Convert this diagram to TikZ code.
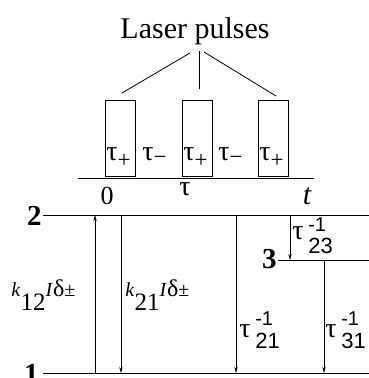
\documentclass[tikz,border=0pt]{standalone}
\usepackage{fontspec}
\setmainfont{Liberation Serif}
\newfontfamily\sansf{Liberation Sans}
\usetikzlibrary{arrows.meta}
\newcommand{\fs}[1]{\fontsize{#1}{#1}\selectfont}
\begin{document}
\begin{tikzpicture}[x=1pt,y=-1pt,line width=0.8pt,
  pulse/.style={draw,minimum width=30pt,minimum height=76pt,inner sep=0pt,anchor=south west},
  lbl/.style={inner sep=0pt,font=\fs{28}},
  lvl/.style={inner sep=0pt,font=\bfseries\fs{29}},
  arr/.style={-{Stealth[length=6pt,width=3.5pt]}}]
\useasboundingbox (0,0) rectangle (369,378);
% title and pointer lines
\node[inner sep=0pt,font=\fs{30},anchor=base] (title) at (195,38) {Laser pulses};
\coordinate (pa) at (190,53); \coordinate (pa2) at (122,93);
\coordinate (pb) at (199,51); \coordinate (pb2) at (199,89);
\coordinate (pc) at (204,52); \coordinate (pc2) at (276,96);
\draw (pa) -- (pa2); \draw (pb) -- (pb2); \draw (pc) -- (pc2);
% pulses
\node[pulse] (b1) at (105,177) {};
\node[pulse] (b2) at (182,177) {};
\node[pulse] (b3) at (258,177) {};
\coordinate (ta) at (78,178); \coordinate (tb) at (314,178);
\draw (ta) -- (tb);
\node[lbl,anchor=base west] (tp1) at (106,160) {τ\raisebox{-7pt}{\fs{23}+}};
\node[lbl,anchor=base west] (tp2) at (183,160) {τ\raisebox{-7pt}{\fs{23}+}};
\node[lbl,anchor=base west] (tp3) at (259,160) {τ\raisebox{-7pt}{\fs{23}+}};
\node[lbl,anchor=base west] (tm1) at (142,160) {τ\raisebox{-4pt}{\fs{23}−}};
\node[lbl,anchor=base west] (tm2) at (218,160) {τ\raisebox{-4pt}{\fs{23}−}};
\node[lbl,anchor=base,font=\fs{26}] (z0) at (107,204) {0};
\node[lbl,anchor=base] (zt) at (185,195) {τ};
\node[lbl,anchor=base,font=\fs{30}] (zT) at (307,204) {\itshape t};
% levels
\coordinate (l2a) at (43,215); \coordinate (l2b) at (369,215);
\coordinate (l1a) at (43,373); \coordinate (l1b) at (369,373);
\coordinate (l3a) at (278,260); \coordinate (l3b) at (369,260);
\draw (l2a) -- (l2b); \draw (l1a) -- (l1b); \draw (l3a) -- (l3b);
\node[lvl,anchor=base east] (n2) at (42,225) {2};
\node[lvl,anchor=base east] (n1) at (39,383) {1};
\node[lvl,anchor=base east] (n3) at (277,268) {3};
% transitions
\coordinate (u1) at (95,373); \coordinate (u2) at (95,215);
\coordinate (d1) at (121,215); \coordinate (d2) at (121,373);
\coordinate (e1) at (236,215); \coordinate (e2) at (236,373);
\coordinate (f1) at (290,215); \coordinate (f2) at (290,260);
\coordinate (g1) at (324,260); \coordinate (g2) at (324,373);
\draw[arr] (u1) -- (u2);
\draw[arr] (d1) -- (d2);
\draw[arr] (e1) -- (e2);
\draw[arr] (f1) -- (f2);
\draw[arr] (g1) -- (g2);
% rate labels
\node[lbl,anchor=base west,font=\fs{20}] (k12) at (11,296) {\textit{k}\raisebox{-14pt}{\fs{25}12}\textit{I}{\fs{24}δ}±};
\node[lbl,anchor=base west,font=\fs{20}] (k21) at (125,296) {\textit{k}\raisebox{-14pt}{\fs{25}21}\textit{I}{\fs{24}δ}±};
\node[lbl,anchor=base west] (r21) at (239,337) {τ\,\makebox[0pt][l]{\raisebox{12pt}{\sansf\fs{20}-1}}\raisebox{-11pt}{\sansf\fs{22}21}};
\node[lbl,anchor=base west] (r31) at (325,337) {τ\,\makebox[0pt][l]{\raisebox{12pt}{\sansf\fs{20}-1}}\raisebox{-11pt}{\sansf\fs{22}31}};
\node[lbl,anchor=base west] (r23) at (292,239) {τ\,\makebox[0pt][l]{\raisebox{8pt}{\sansf\fs{20}-1}}\raisebox{-14pt}{\sansf\fs{22}23}};
\end{tikzpicture}
\end{document}
